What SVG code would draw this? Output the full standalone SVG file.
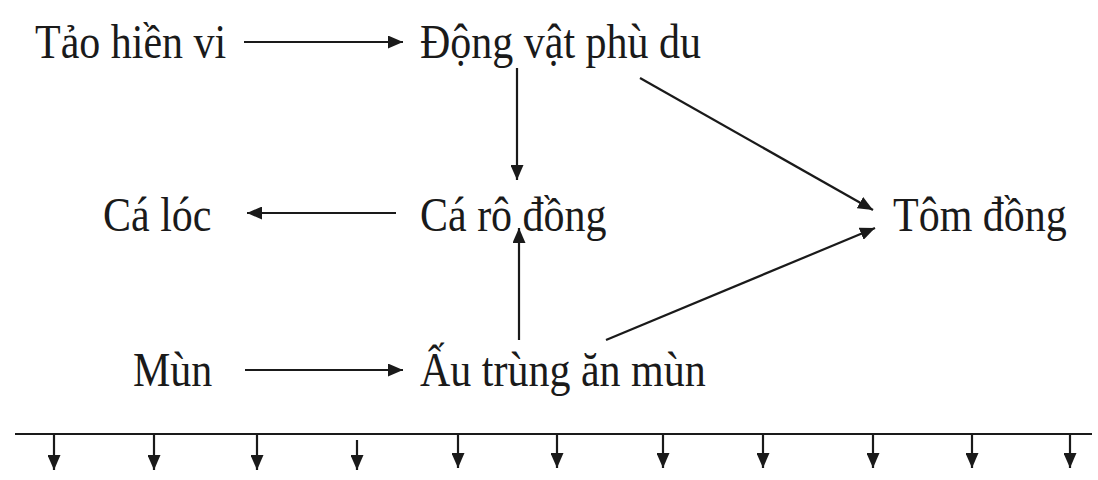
<svg xmlns="http://www.w3.org/2000/svg" width="1098" height="480" viewBox="0 0 1098 480">
<defs>
<style>
text{font-family:"Liberation Serif","Times New Roman",serif;font-size:42px;fill:#1a1a1a}
.c{stroke:#1a1a1a;stroke-width:2.2;fill:none}
</style>
<marker id="ah" viewBox="0 0 15 13" refX="15" refY="6.5" markerWidth="15" markerHeight="13" markerUnits="userSpaceOnUse" orient="auto">
<path d="M0,0 L15,6.5 L0,13 Z" fill="#1a1a1a"/>
</marker>
</defs>
<rect width="1098" height="480" fill="#fff"/>
<g id="n-tao"><text transform="translate(35,58) scale(1,1.17)">Tảo hiền vi</text></g>
<g id="n-dongvat"><text transform="translate(420,58) scale(1,1.17)">Động vật phù du</text></g>
<g id="n-caloc"><text transform="translate(103,231) scale(1,1.17)">Cá lóc</text></g>
<g id="n-caro"><text transform="translate(420,231) scale(1,1.17)">Cá rô đồng</text></g>
<g id="n-tom"><text transform="translate(893,231) scale(1,1.17)">Tôm đồng</text></g>
<g id="n-mun"><text transform="translate(133,386) scale(1,1.17)">Mùn</text></g>
<g id="n-autrung"><text transform="translate(420,386) scale(1,1.17)">Ấu trùng ăn mùn</text></g>
<g id="connectors" class="c">
<line x1="244" y1="42" x2="403" y2="42" marker-end="url(#ah)"/>
<line x1="517" y1="68" x2="517" y2="180" marker-end="url(#ah)"/>
<line x1="640" y1="78" x2="873" y2="210" marker-end="url(#ah)"/>
<line x1="396" y1="213" x2="247" y2="213" marker-end="url(#ah)"/>
<line x1="519" y1="340" x2="519" y2="228" marker-end="url(#ah)"/>
<line x1="606" y1="340" x2="875" y2="228" marker-end="url(#ah)"/>
<line x1="245" y1="370" x2="403" y2="370" marker-end="url(#ah)"/>
<line x1="15" y1="434" x2="1092" y2="434"/>
<line x1="54" y1="434" x2="54" y2="470" marker-end="url(#ah)"/>
<line x1="154" y1="434" x2="154" y2="470" marker-end="url(#ah)"/>
<line x1="257" y1="434" x2="257" y2="470" marker-end="url(#ah)"/>
<line x1="357" y1="440" x2="357" y2="470" marker-end="url(#ah)"/>
<line x1="458" y1="434" x2="458" y2="468" marker-end="url(#ah)"/>
<line x1="557" y1="434" x2="557" y2="468" marker-end="url(#ah)"/>
<line x1="663" y1="434" x2="663" y2="468" marker-end="url(#ah)"/>
<line x1="763" y1="434" x2="763" y2="468" marker-end="url(#ah)"/>
<line x1="873" y1="434" x2="873" y2="468" marker-end="url(#ah)"/>
<line x1="972" y1="434" x2="972" y2="468" marker-end="url(#ah)"/>
<line x1="1070" y1="434" x2="1070" y2="468" marker-end="url(#ah)"/>
</g>
</svg>
